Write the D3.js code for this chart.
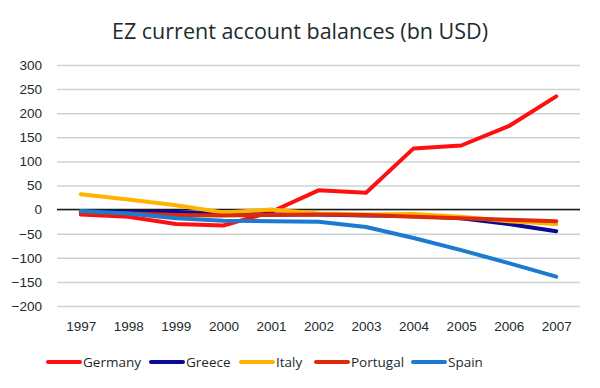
<!DOCTYPE html>
<html lang="en">
<head>
<meta charset="utf-8">
<style>
  body { margin: 0; background: white; }
  svg { font-family: "Open Sans", "Liberation Sans", sans-serif; }
  .tick text { fill: #1c2b2b; font-size: 13.5px; }
</style>
<title>EZ current account balances</title>
</head>
<body>
<script src="https://cdn.jsdelivr.net/npm/d3@7"></script>
<script>
// years on the x axis
var years = ["1997","1998","1999","2000","2001","2002","2003","2004","2005","2006","2007"];
var yTicks = [-200, -150, -100, -50, 0, 50, 100, 150, 200, 250, 300];

// current account balances, bn USD
var germany  = [-10, -15, -30, -33, -5, 40, 35, 127, 133, 173, 235];
var greece   = [-5, -5, -5, -8, -10, -10, -12, -13, -18, -30, -45];
var italy    = [32, 21, 9, -6, 0, -8, -10, -9, -15, -24, -30];
var portugal = [-6, -8, -11, -12, -11, -10, -11, -15, -18, -21, -24];
var spain    = [-3, -8, -18, -23, -24, -25, -36, -59, -84, -111, -139];

var names  = ["Germany", "Greece", "Italy", "Portugal", "Spain"];
var colors = ["#ff1010", "#0a0a96", "#ffb300", "#dd2a0a", "#1b7bd0"];
var series = [germany, greece, italy, portugal, spain];

var W = 600, H = 388;
var svg = d3.select("body").append("svg").attr("width", W).attr("height", H);

var x = d3.scalePoint().domain(years).range([57, 580]).padding(0.5);
var y = d3.scaleLinear().domain([-200, 300]).range([306, 65]);

// title
svg.append("text")
   .attr("x", 300).attr("y", 39)
   .attr("text-anchor", "middle")
   .attr("font-size", "21.5px")
   .attr("fill", "#1c2b2b")
   .text("EZ current account balances (bn USD)");

// gridlines + y labels
var yAxis = svg.append("g")
   .attr("transform", "translate(57,0)")
   .call(d3.axisLeft(y).tickValues(yTicks).tickSize(-523));
yAxis.select(".domain").remove();
yAxis.selectAll(".tick line").attr("stroke", "#c9d3d3").attr("stroke-width", 1.5);
yAxis.selectAll(".tick text").attr("x", -15);

// zero line
svg.append("line")
   .attr("x1", 57).attr("x2", 580)
   .attr("y1", y(0)).attr("y2", y(0))
   .attr("stroke", "#1a1a1a").attr("stroke-width", 1.5);

// x labels
var xAxis = svg.append("g")
   .attr("transform", "translate(0,312)")
   .call(d3.axisBottom(x).tickSize(0).tickPadding(9));
xAxis.select(".domain").remove();

var line = d3.line()
   .x(function(d, i) { return x(years[i]); })
   .y(function(d) { return y(d); });

series.forEach(function(s, k) {
  svg.append("path")
     .datum(s)
     .attr("fill", "none")
     .attr("stroke", colors[k])
     .attr("stroke-width", 4)
     .attr("stroke-linejoin", "round")
     .attr("stroke-linecap", "round")
     .attr("d", line);
});

// legend
var legendX = [48, 151, 241, 316, 413];
var legend = svg.append("g");
names.forEach(function(n, k) {
  var g = legend.append("g").attr("transform", "translate(" + legendX[k] + ",362)");
  g.append("line").attr("x1", 0).attr("x2", 32).attr("y1", 0).attr("y2", 0)
   .attr("stroke", colors[k]).attr("stroke-width", 4).attr("stroke-linecap", "round");
  g.append("text").attr("x", 35).attr("y", 5)
   .attr("font-size", "13.5px").attr("fill", "#1c2b2b").text(n);
});
</script>
</body>
</html>
